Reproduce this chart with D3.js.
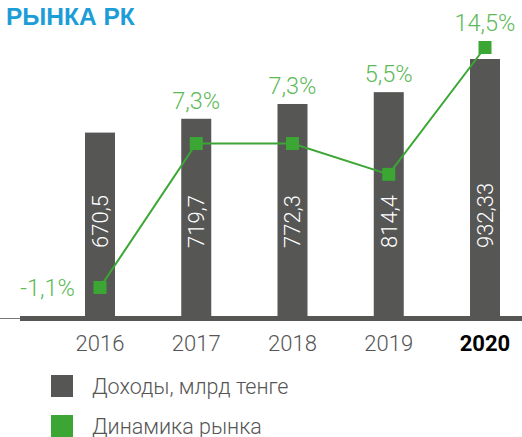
<!DOCTYPE html>
<html>
<head>
<meta charset="utf-8">
<script src="https://cdn.jsdelivr.net/npm/d3@7"></script>
<style>
  body { margin: 0; background: #fff; }
  text { font-family: Roboto, "Helvetica Neue", Arial, sans-serif; }
</style>
</head>
<body>
<script>
// data
var years = ['2016', '2017', '2018', '2019', '2020'];
var income = [670.5, 719.7, 772.3, 814.4, 932.33];
var incomeLabels = ['670,5', '719,7', '772,3', '814,4', '932,33'];
var growth = [-1.1, 7.3, 7.3, 5.5, 14.5];
var growthLabels = ['-1,1%', '7,3%', '7,3%', '5,5%', '14,5%'];
var legendItems = ['Доходы, млрд тенге', 'Динамика рынка'];

var width = 522;
var height = 437;

var canvas = d3.select('body')
    .append('svg')
    .attr('width', width)
    .attr('height', height)

var barColor = '#565655';
var lineColor = '#3ba634';
var labelGreen = '#5cb957';

var xScale = d3.scalePoint()
    .domain(years)
    .range([100, 485])

var barWidth = 30;

var yScale = d3.scaleLinear()
    .domain([0, 1000])
    .range([321, 40])

// the dynamics line is not drawn to one linear scale in the original
var gScale = d3.scaleLinear()
    .domain([-1.1, 7.3, 14.5])
    .range([287.5, 143.5, 47.5])

// title
canvas.append('text')
    .text('РЫНКА РК')
    .attr('x', 6)
    .attr('y', 24.5)
    .attr('fill', '#1c9dd8')
    .style('font-family', 'Arial, "Liberation Sans", sans-serif')
    .style('font-weight', 'bold')
    .style('font-size', '24.5px')

// baseline
canvas.append('line')
    .attr('x1', 0).attr('x2', 20)
    .attr('y1', 318.5).attr('y2', 318.5)
    .attr('stroke', '#777')
    .attr('stroke-width', 1)

canvas.append('rect')
    .attr('x', 20)
    .attr('y', 316)
    .attr('width', width - 20)
    .attr('height', 5)
    .attr('fill', barColor)

// bars
canvas.selectAll('.bar')
    .data(income)
    .enter()
    .append('rect')
    .attr('class', 'bar')
    .attr('x', function (d, i) { return xScale(years[i]) - barWidth / 2; })
    .attr('y', function (d) { return yScale(d); })
    .attr('width', barWidth)
    .attr('height', function (d) { return yScale(0) - yScale(d); })
    .attr('fill', barColor)

// values in bars
canvas.selectAll('.val')
    .data(incomeLabels)
    .enter()
    .append('text')
    .attr('class', 'val')
    .attr('transform', function (d, i) {
        return 'translate(' + xScale(years[i]) + ',248) rotate(-90)';
    })
    .attr('dy', '0.36em')
    .attr('fill', '#fff')
    .style('font-size', '22px')
    .style('font-weight', 300)
    .text(function (d) { return d; })

// line
var line = d3.line()
    .x(function (d, i) { return xScale(years[i]); })
    .y(function (d) { return gScale(d); })

canvas.append('path')
    .datum(growth)
    .attr('d', line)
    .attr('fill', 'none')
    .attr('stroke', lineColor)
    .attr('stroke-width', 2)

canvas.selectAll('.mark')
    .data(growth)
    .enter()
    .append('rect')
    .attr('class', 'mark')
    .attr('x', function (d, i) { return xScale(years[i]) - 6.5; })
    .attr('y', function (d) { return gScale(d) - 6.5; })
    .attr('width', 13)
    .attr('height', 13)
    .attr('fill', lineColor)

// growth labels
canvas.selectAll('.pct')
    .data(growth)
    .enter()
    .append('text')
    .attr('class', 'pct')
    .attr('x', function (d, i) {
        return i == 0 ? xScale(years[i]) - 25 : xScale(years[i]);
    })
    .attr('y', function (d, i) {
        if (i == 0) return gScale(d) + 8;
        var top = Math.min(yScale(income[i]), gScale(d) - 6.5);
        return top - 10;
    })
    .attr('text-anchor', function (d, i) { return i == 0 ? 'end' : 'middle'; })
    .attr('fill', labelGreen)
    .style('font-size', '23.5px')
    .style('font-weight', 300)
    .text(function (d, i) { return growthLabels[i]; })

// axis labels
canvas.selectAll('.year')
    .data(years)
    .enter()
    .append('text')
    .attr('class', 'year')
    .attr('x', function (d) { return xScale(d); })
    .attr('y', 351)
    .attr('text-anchor', 'middle')
    .attr('fill', function (d, i) { return i == years.length - 1 ? '#000' : '#555'; })
    .style('font-size', '22px')
    .style('font-weight', function (d, i) { return i == years.length - 1 ? 'bold' : 300; })
    .text(function (d) { return d; })

// legend
var legend = canvas.selectAll('.legend')
    .data(legendItems)
    .enter()
    .append('g')
    .attr('class', 'legend')
    .attr('transform', function (d, i) { return 'translate(51,' + (375 + i * 40) + ')'; })

legend.append('rect')
    .attr('width', 22)
    .attr('height', 22)
    .attr('fill', function (d, i) { return i == 0 ? barColor : lineColor; })

legend.append('text')
    .attr('x', 41)
    .attr('y', 19)
    .attr('fill', '#555')
    .style('font-size', '21.5px')
    .style('font-weight', 300)
    .text(function (d) { return d; })
</script>
</body>
</html>
